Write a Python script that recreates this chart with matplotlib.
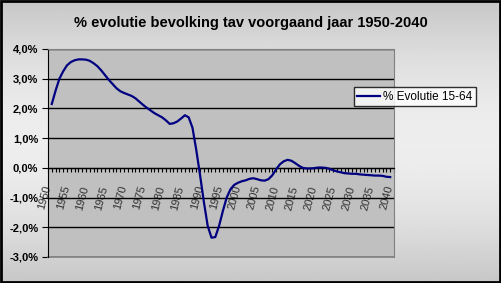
import numpy as np
import matplotlib
matplotlib.use("Agg")
import matplotlib.pyplot as plt
from matplotlib.ticker import MultipleLocator, FixedLocator, FuncFormatter

plt.rcParams['font.family'] = ['Liberation Sans', 'DejaVu Sans']

# % evolutie 15-64 per jaar (t.o.v. voorgaand jaar), 1951-2040
years = list(range(1951, 2041))
evolutie = [2.15, 2.60, 3.00, 3.25, 3.45, 3.56, 3.62, 3.65, 3.65, 3.64,
            3.60, 3.52, 3.42, 3.28, 3.12, 2.96, 2.82, 2.68, 2.58, 2.52,
            2.47, 2.42, 2.34, 2.23, 2.12, 2.02, 1.93, 1.84, 1.77, 1.70,
            1.60, 1.48, 1.50, 1.56, 1.66, 1.77, 1.70, 1.35, 0.60, -0.25,
            -1.15, -1.95, -2.35, -2.33, -1.95, -1.45, -1.00, -0.72, -0.57, -0.50,
            -0.45, -0.42, -0.37, -0.35, -0.38, -0.42, -0.43, -0.38, -0.25, -0.05,
            0.12, 0.22, 0.27, 0.24, 0.16, 0.07, 0.00, -0.02, -0.02, -0.01,
            0.01, 0.01, 0.00, -0.03, -0.08, -0.12, -0.15, -0.18, -0.19, -0.20,
            -0.20, -0.22, -0.23, -0.24, -0.25, -0.26, -0.26, -0.27, -0.30, -0.31]
label_years = list(range(1950, 2041, 5))
title = '% evolutie bevolking tav voorgaand jaar 1950-2040'
serie_naam = '% Evolutie 15-64'

fig = plt.figure(figsize=(5.01, 2.83), dpi=100)

# achtergrond met verloop
bg = fig.add_axes([0, 0, 1, 1], zorder=-10)
t = np.linspace(0, 1, 200)
shade = 0.78 + 0.15 * np.sin(np.pi * t)
bg.imshow(np.tile(shade[:, None], (1, 2)), cmap='gray', vmin=0, vmax=1,
          aspect='auto', extent=[0, 1, 0, 1])
bg.set_xlim(0, 1)
bg.set_ylim(0, 1)
bg.axis('off')
fig.patches.append(plt.Rectangle((0.002, 0.003), 0.996, 0.994, transform=fig.transFigure,
                                 fill=False, edgecolor='black', linewidth=2))

ax = fig.add_axes([0.0958, 0.0919, 0.6906, 0.735])
ax.set_facecolor('#c0c0c0')
ax.plot(years, evolutie, color='#000080', linewidth=1.6, label=serie_naam, zorder=3)

ax.set_xlim(1950, 2041)
ax.set_ylim(-3, 4)
ax.yaxis.set_major_locator(MultipleLocator(1))
ax.yaxis.set_major_formatter(FuncFormatter(lambda v, p: ('%.1f%%' % v).replace('.', ',')))
ax.grid(axis='y', color='black', linewidth=1)
ax.set_axisbelow(True)

for s in ['top', 'right']:
    ax.spines[s].set_color('#808080')
ax.spines['bottom'].set_position(('data', 0))
ax.spines['bottom'].set_color('black')
ax.spines['left'].set_color('black')
# grijze onderrand van het plotvlak
ax.axhline(-3, color='#808080', linewidth=1.2, clip_on=False)

ax.xaxis.set_major_locator(FixedLocator(label_years))
ax.xaxis.set_minor_locator(MultipleLocator(1))
ax.tick_params(axis='x', which='both', direction='out', length=3, width=0.8, pad=10)
ax.tick_params(axis='y', length=4, width=0.8, pad=3)
ax.set_xticklabels([str(y) for y in label_years], rotation=75, ha='right', va='center',
                   rotation_mode='anchor', fontsize=8, color='#333333')
for lbl in ax.get_yticklabels():
    lbl.set_fontsize(8)
    lbl.set_fontweight('bold')

fig.text(0.5, 0.917, title, ha='center', va='center', fontsize=10.5, fontweight='bold')

leg = ax.legend(loc='center left', bbox_to_anchor=(0.884, 0.77), fontsize=8.5,
                frameon=True, fancybox=False, handlelength=1.9, borderpad=0.3,
                handletextpad=0.3, borderaxespad=0)
leg.get_frame().set_edgecolor('black')
leg.get_frame().set_facecolor('white')
leg.get_frame().set_linewidth(1)
leg.set_zorder(5)

fig.savefig('out.png', dpi=100)
